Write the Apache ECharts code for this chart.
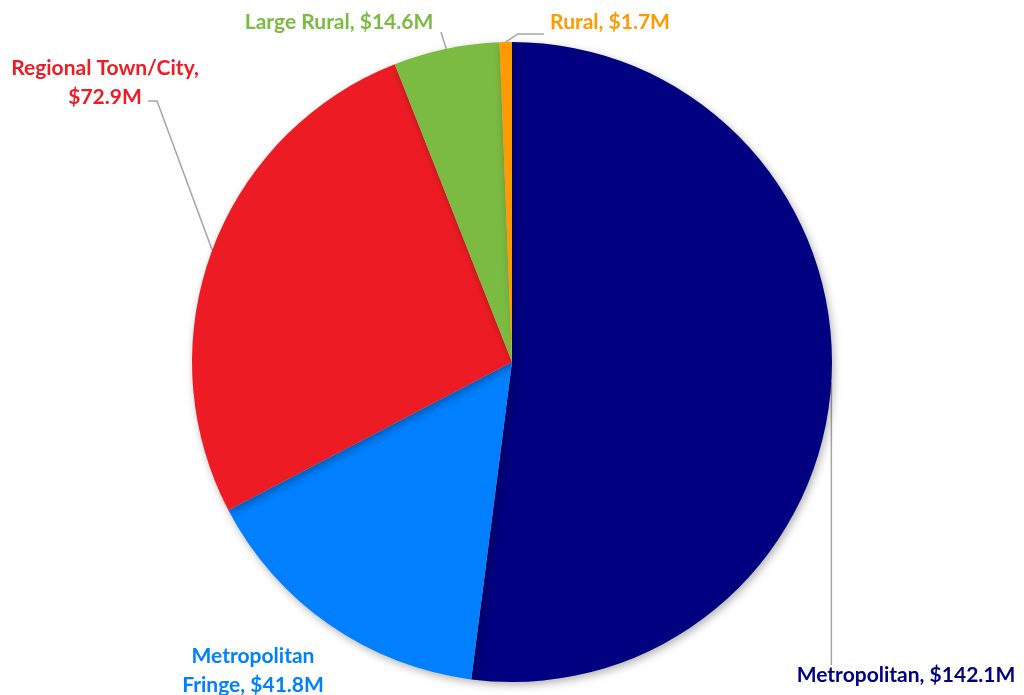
<!DOCTYPE html>
<html>
<head>
<meta charset="utf-8">
<script src="https://cdn.jsdelivr.net/npm/echarts@6/dist/echarts.min.js"></script>
<style>
  html, body { margin: 0; padding: 0; background: #fff; }
  #chart { width: 1024px; height: 695px; }
</style>
</head>
<body>
<div id="chart"></div>
<script>
// funding by region type ($M)
const categories = ['Metropolitan', 'Metropolitan Fringe', 'Regional Town/City', 'Large Rural', 'Rural'];
const values = [142.1, 41.8, 72.9, 14.6, 1.7];
const colors = ['#000080', '#0080FF', '#ED1C24', '#7CBB41', '#FF9A00'];

// where each label sits (centre, px)
const labelPos = [
    [906, 675],
    [253, 671],
    [105, 83],
    [339, 22],
    [610, 22]
];

function labelText(p) {
    const v = '$' + p.value.toFixed(1) + 'M';
    if (p.dataIndex === 1) return 'Metropolitan\nFringe, ' + v;
    if (p.dataIndex === 2) return 'Regional Town/City,\n' + v;
    return p.name + ', ' + v;
}

// leader line: from the slice edge to the label, Excel style
function leader(i, edge, pos) {
    if (i === 0) return [edge, [edge[0], pos[1] - 10]];
    if (i === 2) return [edge, [pos[0] + 52, pos[1] + 18], [pos[0] + 43, pos[1] + 18]];
    if (i === 3) return [edge, [pos[0] + 102, pos[1] + 10]];
    if (i === 4) return [edge, [edge[0] + 12, pos[1] + 12], [pos[0] - 66, pos[1] + 12]];
    return null;
}

function initChart() {
    const chart = echarts.init(document.getElementById('chart'));

    const option = {
        animation: false,
        series: [{
            type: 'pie',
            center: [512, 362],
            radius: 320,
            startAngle: 90,
            clockwise: true,
            data: categories.map((name, i) => ({
                name: name,
                value: values[i],
                itemStyle: { color: colors[i] },
                label: { color: colors[i] },
                labelLine: { show: i !== 1 }
            })),
            itemStyle: {
                shadowBlur: 8,
                shadowOffsetX: 2,
                shadowOffsetY: 3,
                shadowColor: 'rgba(0,0,0,0.3)'
            },
            label: {
                show: true,
                formatter: labelText,
                fontFamily: 'Lato',
                fontWeight: 'bold',
                fontSize: 21,
                lineHeight: 29,
                align: 'center',
                overflow: 'none'
            },
            labelLine: {
                show: true,
                length: 10,
                length2: 10,
                lineStyle: { color: '#A6A6A6', width: 1.5 }
            },
            labelLayout: function (params) {
                const i = params.dataIndex;
                const p = labelPos[i];
                const out = {
                    x: p[0],
                    y: p[1],
                    align: 'center',
                    verticalAlign: 'middle'
                };
                const pts = params.labelLinePoints;
                if (pts && pts.length) {
                    const line = leader(i, pts[0], p);
                    if (line) out.labelLinePoints = line;
                }
                return out;
            }
        }]
    };

    chart.setOption(option);
}

window.onload = function () {
    initChart();
};
</script>
</body>
</html>
